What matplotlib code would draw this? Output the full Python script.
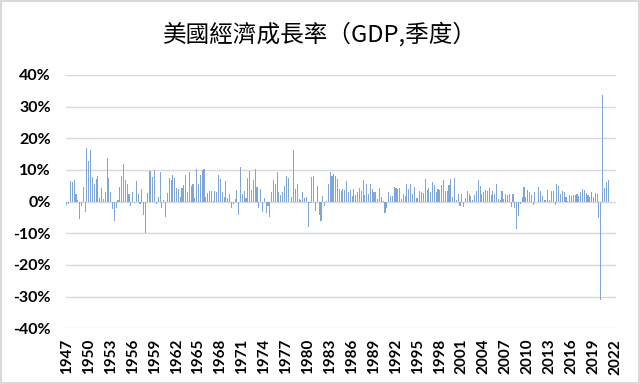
import numpy as np
import matplotlib
matplotlib.use("Agg")
import matplotlib.pyplot as plt
from matplotlib.patches import Rectangle

plt.rcParams['font.family'] = ['Lato', 'Noto Sans CJK TC', 'DejaVu Sans']

# quarterly annualized real GDP growth (%), 1947Q2 .. 2021Q2
growth = [
    -1.0, -0.8, 6.4,
    6.2, 6.8, 2.3, 0.5,
    -5.4, -1.4, 4.5, -3.4,
    16.9, 12.7, 16.4, 7.9,
    5.6, 7.1, 8.2, 1.2,
    4.4, 0.9, 3.1, 13.7,
    7.6, 3.1, -2.2, -6.0,
    -1.9, 0.5, 4.5, 8.1,
    12.0, 6.8, 5.4, 2.3,
    -1.5, 3.1, -0.4, 6.6,
    2.5, -0.9, 4.0, -4.1,
    -10.0, 2.6, 9.6, 9.7,
    7.7, 10.1, -0.8, 1.6,
    9.3, -2.0, 0.6, -5.0,
    2.7, 7.6, 6.8, 8.3,
    7.4, 4.3, 3.9, 1.4,
    4.4, 5.2, 8.5, 3.1,
    9.2, 4.8, 5.4, 1.2,
    10.2, 5.6, 8.5, 10.1,
    10.3, 1.4, 2.8, 3.4,
    3.5, 0.3, 3.2, 3.1,
    8.3, 7.0, 2.9, 1.4,
    6.5, 1.2, 2.5, -1.9,
    -0.6, 0.7, 3.6, -4.1,
    11.0, 2.4, 3.3, 1.1,
    7.3, 9.8, 3.8, 6.9,
    10.3, 4.5, -2.1, 3.9,
    -3.4, 1.0, -3.7, -1.5,
    -4.8, 3.1, 6.8, 5.5,
    9.3, 3.0, 2.2, 2.9,
    4.8, 8.0, 7.4, 0.0,
    1.3, 16.4, 4.0, 5.5,
    0.7, 0.4, 3.0, 1.0,
    1.3, -8.0, -0.5, 7.7,
    8.1, -2.9, 4.9, -4.3,
    -6.1, 1.8, -1.5, 0.2,
    5.4, 9.4, 8.2, 8.6,
    8.1, 7.1, 3.9, 3.3,
    3.9, 3.6, 6.4, 3.1,
    3.8, 1.8, 3.9, 2.2,
    2.9, 4.4, 3.5, 6.8,
    2.1, 5.4, 2.3, 5.4,
    4.1, 3.1, 3.0, 0.8,
    4.4, 1.5, 0.3, -3.6,
    -1.9, 3.1, 1.9, 1.8,
    4.7, 4.4, 4.0, 4.2,
    0.7, 2.3, 1.9, 5.4,
    3.9, 5.5, 2.4, 4.7,
    1.2, 1.2, 3.4, 2.9,
    2.6, 7.0, 3.7, 4.3,
    3.1, 6.1, 5.1, 3.1,
    4.0, 3.8, 5.3, 6.7,
    3.3, 3.4, 5.3, 7.0,
    1.5, 7.5, 0.4, 2.4,
    -1.3, 2.5, -1.6, 1.1,
    3.5, 2.4, 1.8, 0.6,
    2.2, 3.5, 6.8, 4.8,
    2.3, 3.0, 3.7, 3.5,
    4.3, 2.1, 3.4, 2.3,
    5.5, 0.9, 0.6, 3.5,
    0.9, 2.3, 2.2, 2.5,
    -1.6, 2.3, -2.1, -8.5,
    -4.6, -0.7, 1.5, 4.5,
    1.5, 3.7, 3.0, 2.0,
    -1.0, 2.9, -0.1, 4.7,
    3.2, 1.7, 0.5, 0.5,
    3.6, 0.5, 3.2, 3.2,
    -1.1, 5.5, 5.0, 2.3,
    3.2, 3.0, 1.3, 0.1,
    2.0, 1.9, 2.2, 2.0,
    2.3, 1.7, 2.9, 3.9,
    3.8, 2.7, 2.1, 1.3,
    2.9, 1.5, 2.6, 2.4,
    -5.1, -31.2, 33.8, 4.2,
    6.3, 6.7,
]
n_categories = 301   # 1947Q2 .. 2022Q2 on the axis
year_labels = [str(y) for y in range(1947, 2023, 3)]
y_ticks = [-40, -30, -20, -10, 0, 10, 20, 30, 40]

fig = plt.figure(figsize=(6.4, 3.84), dpi=100)
ax = fig.add_axes([0.103, 0.145, 0.86, 0.66])

x = np.arange(len(growth))
ax.bar(x, np.array(growth) / 100, width=0.6, color='#7FA6D9', zorder=3)

ax.set_xlim(-0.5, n_categories - 0.5)
ax.set_ylim(-0.40, 0.40)
ax.set_yticks([v / 100 for v in y_ticks])
ax.set_yticklabels([f"{v}%" for v in y_ticks], fontsize=11.5, fontweight='bold')
ax.set_xticks(np.arange(0, n_categories, 12))
ax.set_xticklabels(year_labels, rotation=90, fontsize=11, fontweight='bold')
ax.tick_params(length=0)
ax.tick_params(axis='x', pad=7.5)
ax.tick_params(axis='y', pad=11)
ax.grid(axis='y', color='#d9d9d9', linewidth=1, zorder=0)
for s in ax.spines.values():
    s.set_visible(False)

fig.text(0.5, 0.911, "美國經濟成長率（GDP,季度）", ha='center', va='center',
         fontsize=17, family=['Noto Sans CJK TC', 'DejaVu Sans'])

fig.patches.append(Rectangle((0, 0), 1, 1, transform=fig.transFigure,
                             fill=False, edgecolor='#d9d9d9', linewidth=3))

fig.savefig("out.png", dpi=100)
